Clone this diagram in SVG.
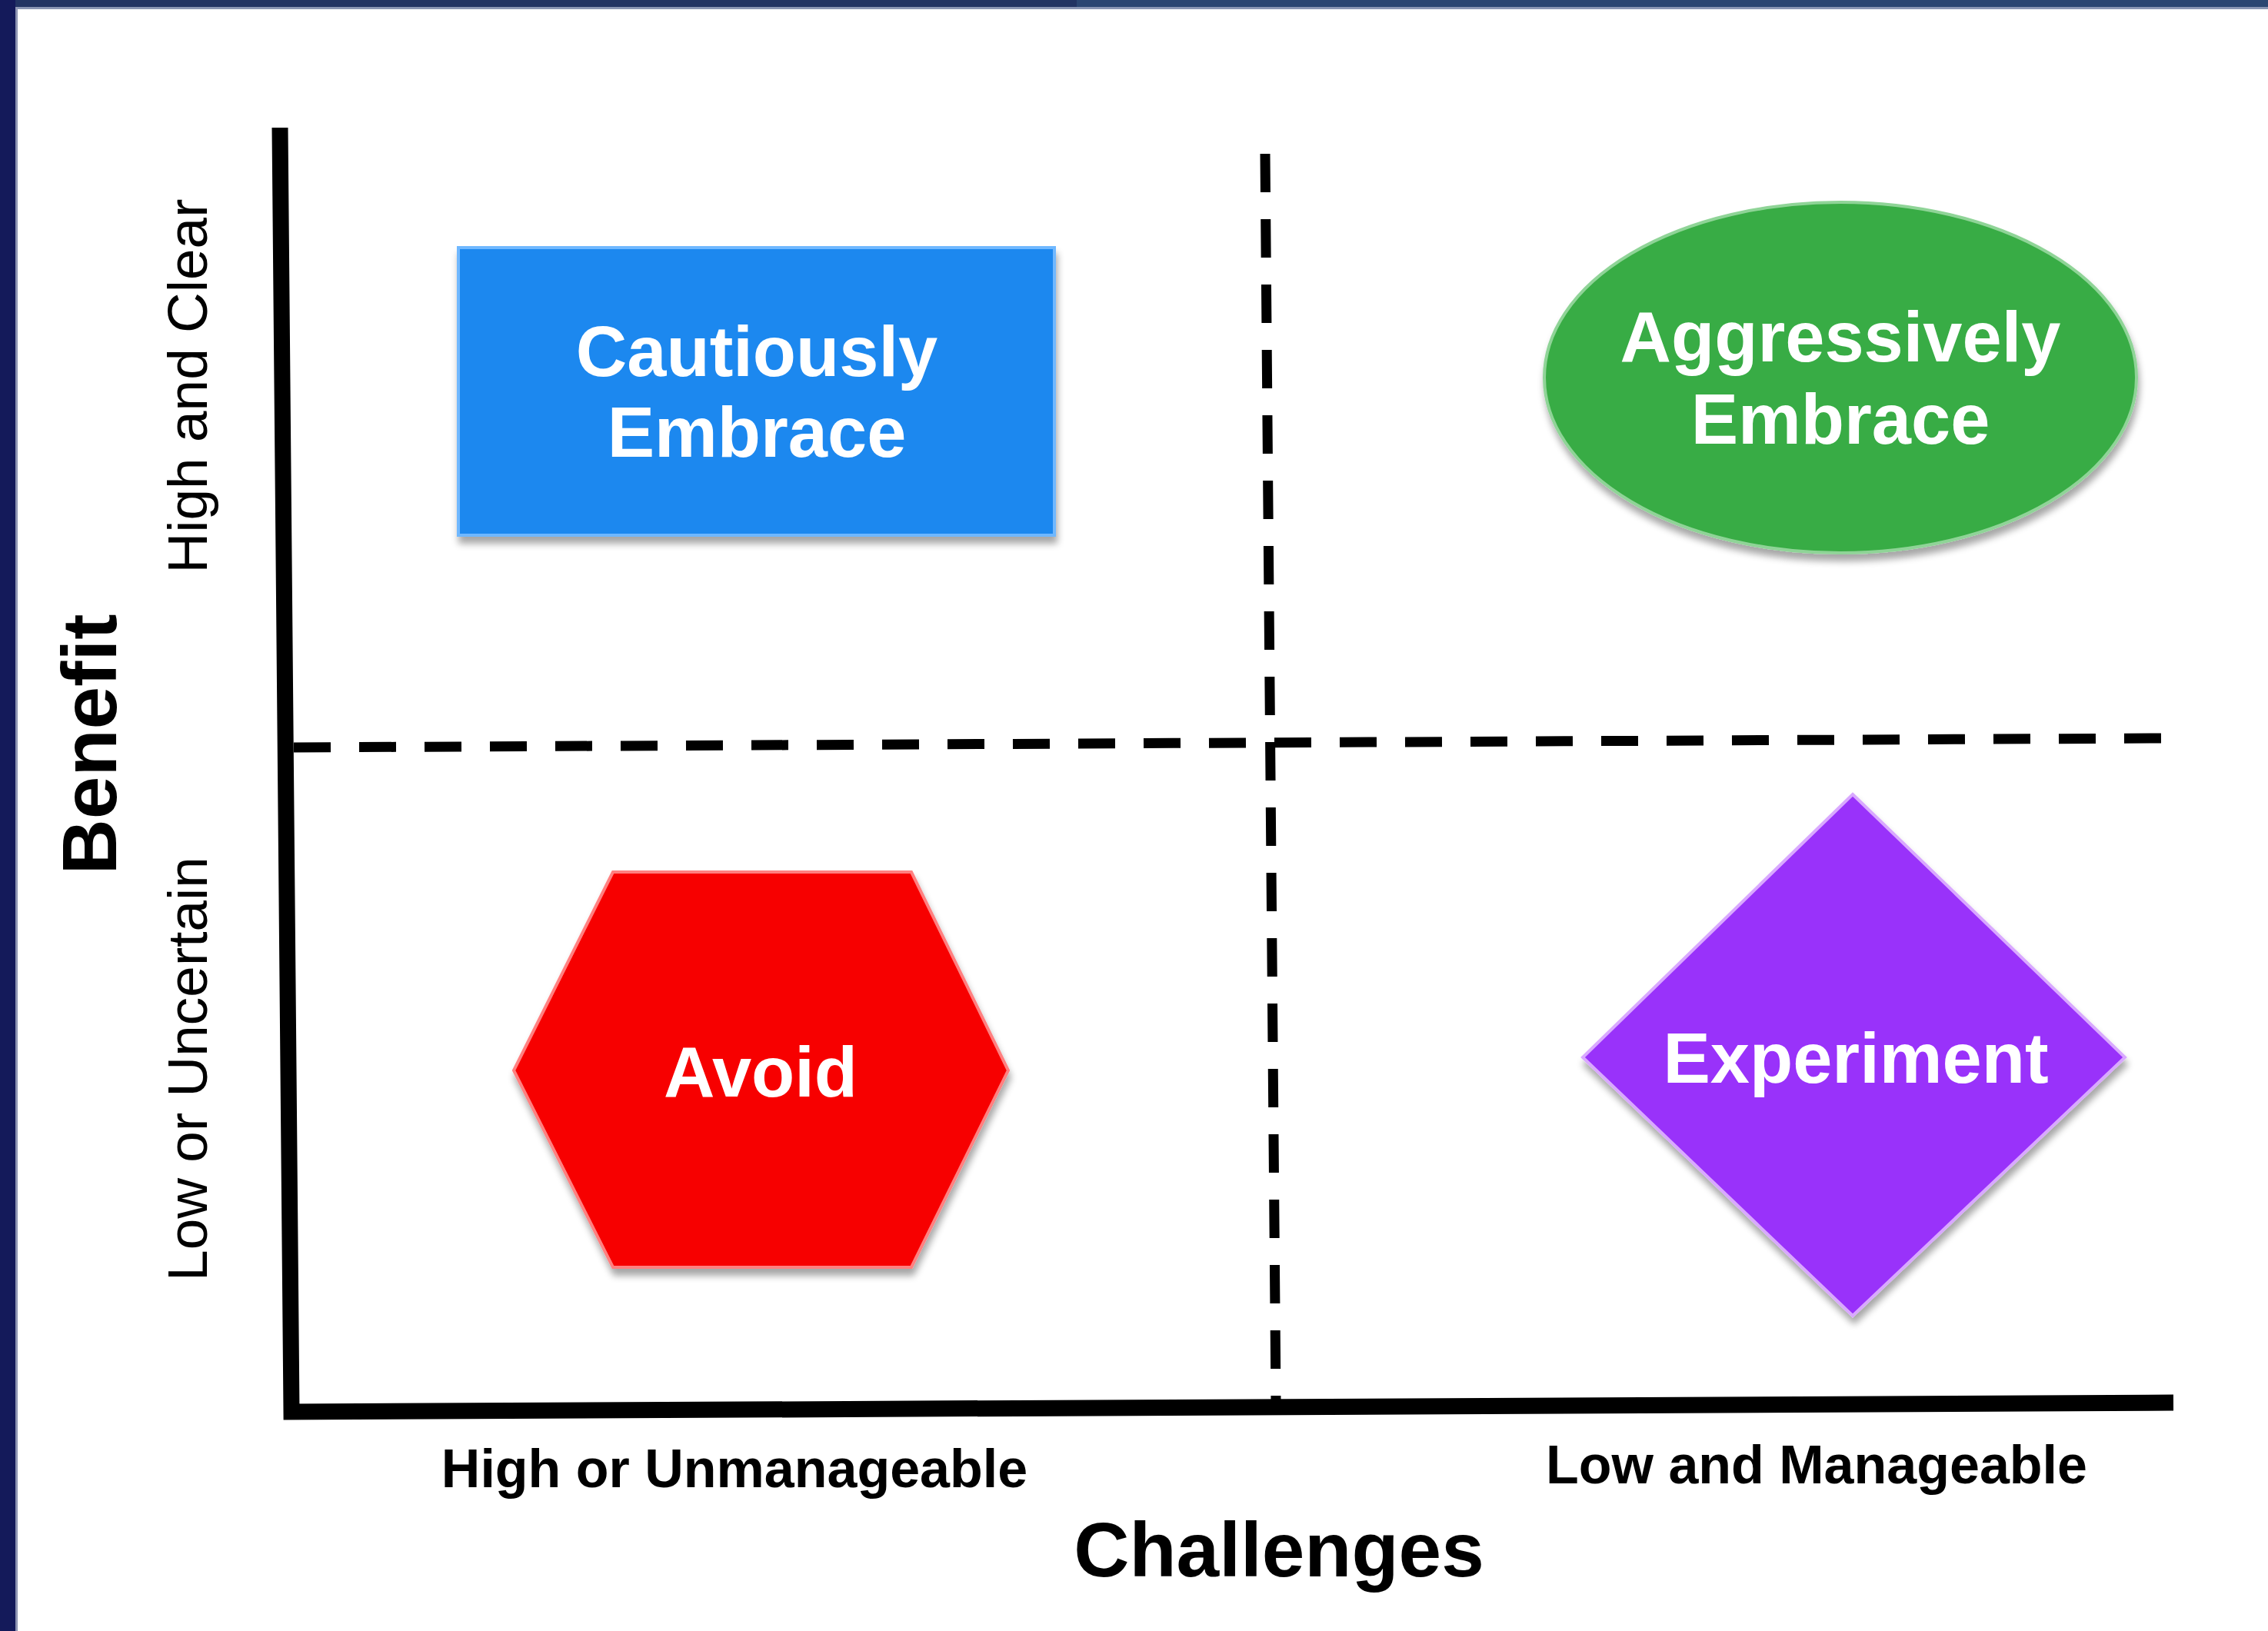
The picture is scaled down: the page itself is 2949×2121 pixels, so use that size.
<svg xmlns="http://www.w3.org/2000/svg" width="2949" height="2121" viewBox="0 0 2949 2121">
  <defs>
    <filter id="shadow" x="-10%" y="-10%" width="120%" height="125%">
      <feGaussianBlur in="SourceAlpha" stdDeviation="5"/>
      <feOffset dx="2" dy="9" result="b"/>
      <feComponentTransfer><feFuncA type="linear" slope="0.35"/></feComponentTransfer>
      <feMerge><feMergeNode/><feMergeNode in="SourceGraphic"/></feMerge>
    </filter>
  </defs>
  <style>
    .lbl { font-family: "Liberation Sans", Arial, sans-serif; fill: #ffffff; font-weight: bold; font-size: 92px; text-anchor: middle; }
    .axis-lbl { font-family: "Liberation Sans", Arial, sans-serif; fill: #000000; text-anchor: middle; }
    .shape { filter: url(#shadow); stroke-width: 4; }
    .axis { fill: none; stroke: #000000; stroke-width: 21; stroke-linejoin: miter; }
    .dash { fill: none; stroke: #000000; stroke-width: 13; }
  </style>

  <!-- background and frame -->
  <rect x="0" y="0" width="2949" height="2121" fill="#ffffff"/>
  <rect x="0" y="0" width="2949" height="9" fill="#223463"/>
  <rect x="1400" y="0" width="1549" height="9" fill="#2b4672"/>
  <rect x="0" y="9" width="2949" height="3" fill="#8a96b4"/>
  <rect x="0" y="0" width="20" height="2121" fill="#141a5a"/>
  <rect x="20" y="9" width="3" height="2112" fill="#9096b4"/>

  <!-- axes and divider lines -->
  <g id="axes">
    <path class="axis" d="M364,166 L379,1836 L2826,1824"/>
    <line class="dash" x1="1645" y1="200" x2="1659" y2="1823" stroke-dasharray="50 35"/>
    <line class="dash" x1="382" y1="972" x2="2817" y2="960" stroke-dasharray="48 37"/>
  </g>

  <!-- axis labels -->
  <g id="axis-labels">
    <text class="axis-lbl" x="269" y="502" font-size="73" transform="rotate(-90 269 502)">High and Clear</text>
    <text class="axis-lbl" x="269" y="1390" font-size="73" transform="rotate(-90 269 1390)">Low or Uncertain</text>
    <text class="axis-lbl" x="151" y="968" font-size="100" font-weight="bold" transform="rotate(-90 151 968)">Benefit</text>
    <text class="axis-lbl" x="955" y="1934" font-size="70" font-weight="bold">High or Unmanageable</text>
    <text class="axis-lbl" x="2362" y="1929" font-size="70" font-weight="bold">Low and Manageable</text>
    <text class="axis-lbl" x="1663" y="2050" font-size="100" font-weight="bold">Challenges</text>
  </g>

  <g id="cautiously-embrace">
    <rect class="shape" x="596" y="322" width="775" height="374" fill="#1b88ef" stroke="#6fb8ff"/>
    <text class="lbl" x="984" y="489">Cautiously</text>
    <text class="lbl" x="984" y="594">Embrace</text>
  </g>

  <g id="aggressively-embrace">
    <ellipse class="shape" cx="2393" cy="491" rx="385" ry="228" fill="#39ac44" stroke="#8fd497"/>
    <text class="lbl" x="2393" y="470">Aggressively</text>
    <text class="lbl" x="2393" y="577">Embrace</text>
  </g>

  <g id="avoid">
    <polygon class="shape" points="797,1134 1185,1134 1311,1392 1185,1648 797,1648 668,1392" fill="#f70000" stroke="#ff8080"/>
    <text class="lbl" x="989" y="1426">Avoid</text>
  </g>

  <g id="experiment">
    <polygon class="shape" points="2409,1033 2763,1375 2409,1711 2058,1375" fill="#9933fa" stroke="#d9a8ff"/>
    <text class="lbl" x="2413" y="1408">Experiment</text>
  </g>
</svg>
